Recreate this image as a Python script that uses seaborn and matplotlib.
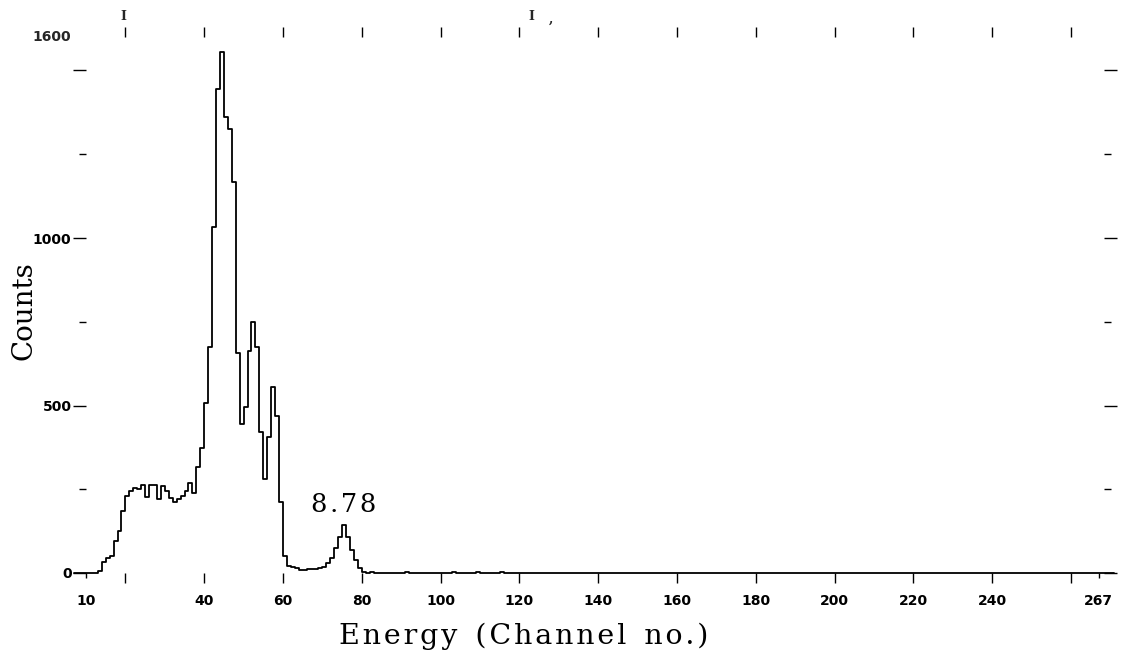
import numpy as np
import pandas as pd
import matplotlib
matplotlib.use("Agg")
import matplotlib.pyplot as plt
import seaborn as sns
from matplotlib.ticker import FixedLocator, FixedFormatter

# ---------------- data ----------------
first_channel = 7
last_channel = 270
# counts for channels 7 .. 80 (one bin per channel)
counts_low = [
    0, 0, 0, 0, 0, 0,                                   # 7-12
    7, 34, 44, 51, 96, 126, 185, 230, 245, 253,          # 13-22
    250, 263, 228, 262, 262, 220, 260, 245, 223, 213,    # 23-32
    220, 231, 245, 268, 238, 316, 374, 506,              # 33-40
    675, 1034, 1446, 1554, 1362, 1325, 1166, 656, 444, 495,  # 41-50
    663, 749, 675, 420, 281, 405, 554, 470, 213, 50,     # 51-60
    20, 17, 14, 10, 9, 12, 12, 12, 14, 17,               # 61-70
    29, 44, 74, 108, 143, 108, 69, 39, 14, 4,            # 71-80
]
# channels 81 .. 270 are zero except for a few small noise counts
tail_noise_channels = [82, 88, 91, 97, 103, 109, 115, 121, 135]
tail_noise_counts = [2, 1, 3, 1, 3, 2, 2, 1, 1]

x_major_ticks = [20, 40, 60, 80, 100, 120, 140, 160, 180, 200, 220, 240, 260]
x_major_labels = ["", "40", "60", "80", "100", "120", "140", "160", "180",
                  "200", "220", "240", ""]
x_minor_ticks = [10, 267]
x_minor_labels = ["10", "267"]
y_major_ticks = [0, 500, 1000, 1500]
y_major_labels = ["0", "500", "1000", ""]
y_minor_ticks = [250, 750, 1250]
y_top_label = "1600"
peak_label = "8.78"
peak_label_pos = (75.3, 203)
x_title = "Energy (Channel no.)"
y_title = "Counts"


def spaced(text, sep, word_gap=" "):
    """Letter-spaced version of a label (the original uses wide tracking)."""
    words = text.split(" ")
    return (word_gap + " ").join(sep.join(w) for w in words)


# ---------------- table ----------------
channels = list(range(first_channel, last_channel + 1))
counts = counts_low + [0] * (len(channels) - len(counts_low))
for c, v in zip(tail_noise_channels, tail_noise_counts):
    counts[c - first_channel] = v
df = pd.DataFrame({"channel": np.array(channels, dtype=float) + 0.5,
                   "counts": np.array(counts, dtype=float)})

# ---------------- figure ----------------
sns.set_theme(style="white")
plt.rcParams["font.family"] = ["DejaVu Sans"]

W, H = 1122, 653
fig = plt.figure(figsize=(W / 100, H / 100), dpi=100)
px_per_ch = (1098.7 - 86) / (267 - 10)
x_left_px = 86 - (10 - first_channel) * px_per_ch
x_right_px = 86 + (last_channel + 1 - 10) * px_per_ch
ax = fig.add_axes([x_left_px / W, (H - 573) / H,
                   (x_right_px - x_left_px) / W, (573 - 37) / H])

n_bins = last_channel + 1 - first_channel
sns.histplot(data=df, x="channel", weights="counts",
             bins=n_bins, binrange=(first_channel, last_channel + 1),
             element="step", fill=False, color="black", linewidth=1.3, ax=ax)
for art in ax.patches + ax.lines + ax.collections:
    art.set_clip_on(False)

ax.set_xlim(first_channel, last_channel + 1)
ax.set_ylim(0, 1600)
ax.set_xlabel("")
ax.set_ylabel("")
ax.set_facecolor("white")

for s in ax.spines.values():
    s.set_visible(False)
ax.spines["left"].set_position(("data", 10))
ax.spines["right"].set_position(("data", 268.3))

ax.xaxis.set_major_locator(FixedLocator(x_major_ticks))
ax.xaxis.set_major_formatter(FixedFormatter(x_major_labels))
ax.xaxis.set_minor_locator(FixedLocator(x_minor_ticks))
ax.xaxis.set_minor_formatter(FixedFormatter(x_minor_labels))
ax.yaxis.set_major_locator(FixedLocator(y_major_ticks))
ax.yaxis.set_major_formatter(FixedFormatter(y_major_labels))
ax.yaxis.set_minor_locator(FixedLocator(y_minor_ticks))
ax.yaxis.set_minor_formatter(FixedFormatter(["", "", ""]))

tick_font = dict(labelsize=10, labelcolor="black", color="black", width=1.0)
ax.tick_params(axis="x", which="major", direction="out", length=7.2, pad=8,
               bottom=True, top=True, labelbottom=True, labeltop=False, **tick_font)
ax.tick_params(axis="x", which="minor", direction="out", length=3.6, pad=11.6,
               bottom=True, top=False, labelbottom=True, **tick_font)
ax.tick_params(axis="y", which="major", direction="out", length=9.4, pad=1,
               left=True, right=True, labelleft=True, labelright=False, **tick_font)
ax.tick_params(axis="y", which="minor", direction="out", length=5.0, pad=1,
               left=True, right=True, **tick_font)
for lab in ax.get_xticklabels(which="both") + ax.get_yticklabels(which="both"):
    lab.set_fontweight("bold")

ax.annotate(y_top_label, xy=(10, 1600), xycoords="data", xytext=(-10.4, 0),
            textcoords="offset points", ha="right", va="center",
            fontsize=10, fontweight="bold", annotation_clip=False)

ax.text(peak_label_pos[0], peak_label_pos[1], spaced(peak_label, "\u200a", ""),
        ha="center", va="center", fontsize=18.5, family="DejaVu Serif",
        color="black")

fig.text(524 / W, 1 - 636 / H, spaced(x_title, "\u200a", " "), ha="center",
         va="center", fontsize=20.5, family="DejaVu Serif", color="black")
fig.text(24 / W, 1 - 311 / H, y_title, ha="center", va="center",
         rotation=90, fontsize=20, family="DejaVu Serif", color="black")

# clipped remnants of a title at the very top edge
fig.text(123 / W, 1 - 16 / H, "I", ha="center", va="center", fontsize=9,
         family="DejaVu Serif", fontweight="bold")
fig.text(531 / W, 1 - 16 / H, "I", ha="center", va="center", fontsize=9,
         family="DejaVu Serif", fontweight="bold")
fig.text(551 / W, 1 - 19 / H, ",", ha="center", va="center", fontsize=9,
         family="DejaVu Serif", fontweight="bold")

fig.savefig("out.png", dpi=100, facecolor="white")
